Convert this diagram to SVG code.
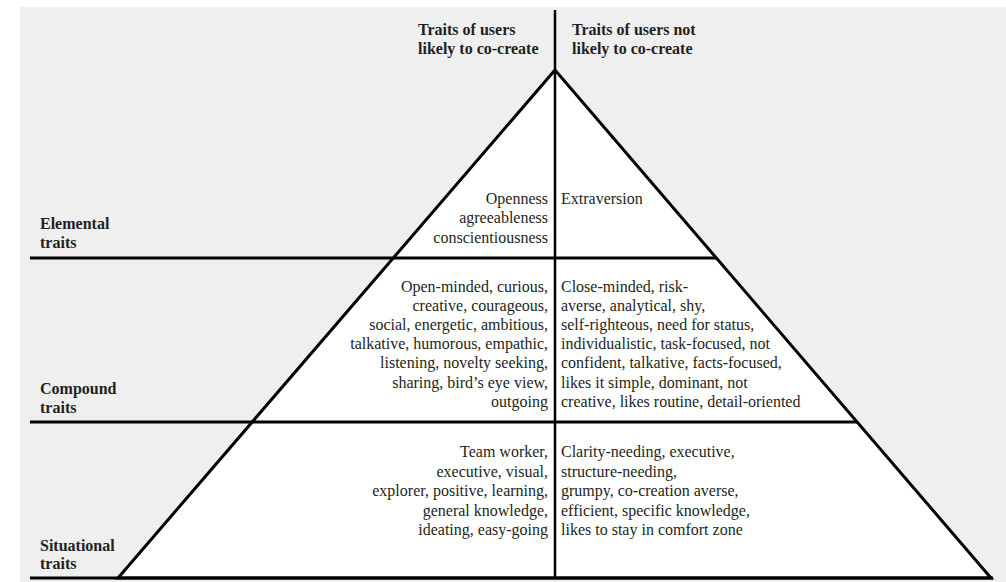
<svg xmlns="http://www.w3.org/2000/svg" width="1006" height="582" viewBox="0 0 1006 582">
<style>
.bg{fill:#efefef}
.ln{stroke:#000;stroke-width:3;fill:none}
.tri{fill:#fff;stroke:#000;stroke-width:3;stroke-linejoin:miter}
.t{font-family:"Liberation Serif",serif;font-size:16px;fill:#231f20}
.b{font-family:"Liberation Serif",serif;font-size:16px;font-weight:bold;fill:#231f20}
.r{text-anchor:end}
</style>
<rect class="bg" x="20" y="7" width="986" height="575"/>
<g id="pyramid">
<polygon class="tri" points="555,70 118,578 991,578"/>
</g>
<g id="connectors">
<line class="ln" x1="30" y1="258" x2="716" y2="258"/>
<line class="ln" x1="30" y1="422" x2="857" y2="422"/>
<line class="ln" x1="30" y1="578" x2="993" y2="578"/>
<line class="ln" x1="555" y1="10" x2="555" y2="578" style="stroke-width:2.5"/>
</g>
<g id="header-left">
<text class="b" x="418" y="35">Traits of users</text>
<text class="b" x="418" y="54">likely to co-create</text>
</g>
<g id="header-right">
<text class="b" x="572" y="35">Traits of users not</text>
<text class="b" x="572" y="54">likely to co-create</text>
</g>
<g id="label-elemental">
<text class="b" x="40" y="229">Elemental</text>
<text class="b" x="40" y="248">traits</text>
</g>
<g id="label-compound">
<text class="b" x="40" y="394">Compound</text>
<text class="b" x="40" y="413">traits</text>
</g>
<g id="label-situational">
<text class="b" x="40" y="551">Situational</text>
<text class="b" x="40" y="569">traits</text>
</g>
<g id="elemental-likely">
<text class="t r" x="548" y="204">Openness</text>
<text class="t r" x="548" y="223">agreeableness</text>
<text class="t r" x="548" y="243">conscientiousness</text>
</g>
<g id="elemental-not">
<text class="t" x="561" y="204">Extraversion</text>
</g>
<g id="compound-likely">
<text class="t r" x="548" y="292">Open-minded, curious,</text>
<text class="t r" x="548" y="311">creative, courageous,</text>
<text class="t r" x="548" y="330">social, energetic, ambitious,</text>
<text class="t r" x="548" y="349">talkative, humorous, empathic,</text>
<text class="t r" x="548" y="368">listening, novelty seeking,</text>
<text class="t r" x="548" y="388">sharing, bird’s eye view,</text>
<text class="t r" x="548" y="407">outgoing</text>
</g>
<g id="compound-not">
<text class="t" x="561" y="292">Close-minded, risk-</text>
<text class="t" x="561" y="311">averse, analytical, shy,</text>
<text class="t" x="561" y="330">self-righteous, need for status,</text>
<text class="t" x="561" y="349">individualistic, task-focused, not</text>
<text class="t" x="561" y="368">confident, talkative, facts-focused,</text>
<text class="t" x="561" y="388">likes it simple, dominant, not</text>
<text class="t" x="561" y="407">creative, likes routine, detail-oriented</text>
</g>
<g id="situational-likely">
<text class="t r" x="548" y="457">Team worker,</text>
<text class="t r" x="548" y="477">executive, visual,</text>
<text class="t r" x="548" y="496">explorer, positive, learning,</text>
<text class="t r" x="548" y="516">general knowledge,</text>
<text class="t r" x="548" y="535">ideating, easy-going</text>
</g>
<g id="situational-not">
<text class="t" x="561" y="457">Clarity-needing, executive,</text>
<text class="t" x="561" y="477">structure-needing,</text>
<text class="t" x="561" y="496">grumpy, co-creation averse,</text>
<text class="t" x="561" y="516">efficient, specific knowledge,</text>
<text class="t" x="561" y="535">likes to stay in comfort zone</text>
</g>
</svg>
